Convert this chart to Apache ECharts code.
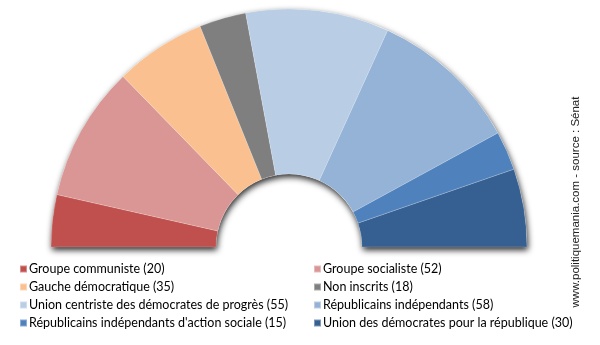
<!DOCTYPE html>
<html>
<head>
<meta charset="utf-8">
<script src="https://cdn.jsdelivr.net/npm/echarts@6/dist/echarts.min.js"></script>
<style>html,body{margin:0;padding:0;background:#fff}#c{width:600px;height:345px}</style>
</head>
<body>
<div id="c"></div>
<script>
const parties = ["Groupe communiste", "Groupe socialiste", "Gauche démocratique", "Non inscrits",
  "Union centriste des démocrates de progrès", "Républicains indépendants",
  "Républicains indépendants d'action sociale", "Union des démocrates pour la république"];
const seats = [20, 52, 35, 18, 55, 58, 15, 30];
const colors = ["#C0504D", "#D99694", "#FAC090", "#7F7F7F", "#B9CDE5", "#95B3D7", "#4F81BD", "#376092"];
const leftLegend = [0, 2, 4, 6];
const rightLegend = [1, 3, 5, 7];
const sourceText = "www.politiquemania.com - source : Sénat";

const seatOf = {};
parties.forEach((p, i) => seatOf[p] = seats[i]);
const chart = echarts.init(document.getElementById('c'), null, {renderer: 'canvas'});
const legendBase = {
  orient: 'vertical', top: 257, itemWidth: 7, itemHeight: 7, itemGap: 4,
  icon: 'rect', selectedMode: false,
  textStyle: {fontFamily: 'Lato', fontSize: 12.5, color: '#000', lineHeight: 14, padding: [0,0,0,-3]},
  formatter: n => n + ' (' + seatOf[n] + ')'
};
const geo = {center: [289, 247], radius: [73, 238], startAngle: 180, endAngle: 0};
chart.setOption({
  animation: false,
  legend: [
    Object.assign({}, legendBase, {left: 14, data: leftLegend.map(i => parties[i])}),
    Object.assign({}, legendBase, {left: 308, data: rightLegend.map(i => parties[i])})
  ],
  graphic: [{
    type: 'text', x: 576, y: 202, rotation: Math.PI / 2,
    style: {text: sourceText, fontFamily: 'Liberation Sans', fontSize: 11.5, fill: '#222',
      textAlign: 'center', textVerticalAlign: 'middle'}
  }],
  series: [
    Object.assign({
      type: 'pie', silent: true, z: 1,
      label: {show: false}, labelLine: {show: false},
      itemStyle: {color: '#fff', shadowBlur: 6, shadowOffsetY: 3, shadowOffsetX: 1, shadowColor: 'rgba(0,0,0,0.85)'},
      data: [{name: '_', value: seats.reduce((a, b) => a + b, 0)}]
    }, geo),
    Object.assign({
      type: 'pie', z: 2,
      avoidLabelOverlap: false,
      label: {show: false}, labelLine: {show: false},
      emphasis: {disabled: true},
      itemStyle: {borderColor: 'rgba(255,255,255,0.35)', borderWidth: 0.5},
      data: parties.map((p, i) => ({name: p, value: seats[i], itemStyle: {color: colors[i]}}))
    }, geo)
  ]
});
</script>
</body>
</html>
